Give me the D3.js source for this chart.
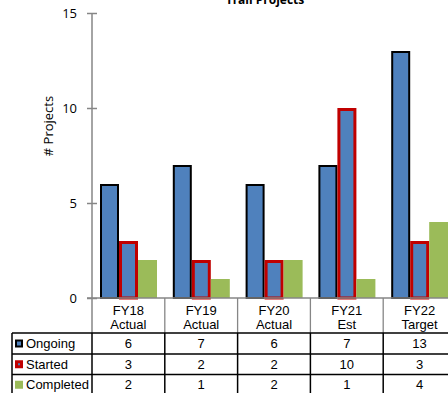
<!DOCTYPE html>
<html><head><meta charset="utf-8">
<script src="https://cdn.jsdelivr.net/npm/d3@7"></script>
<style>body{margin:0;background:#fff}svg{display:block}</style>
</head><body>
<script>
const categories = [["FY18","Actual"],["FY19","Actual"],["FY20","Actual"],["FY21","Est"],["FY22","Target"]];
const seriesNames = ["Ongoing","Started","Completed"];
const ongoing = [6,7,6,7,13];
const started = [3,2,2,10,3];
const completed = [2,1,2,1,4];
const yTicks = [0,5,10,15];

const W=448,H=393;
const svg=d3.select("body").append("svg").attr("width",W).attr("height",H);
const catKeys=categories.map(c=>c.join(" "));
const x=d3.scaleBand().domain(catKeys).range([92,456]).paddingInner(0).paddingOuter(0);
const inner=d3.scaleBand().domain(seriesNames).range([8,65]);
const y=d3.scaleLinear().domain([0,15]).range([298,13]);
const values={Ongoing:ongoing,Started:started,Completed:completed};
const style={
 Ongoing:{fill:"#4F81BD",stroke:"#000",sw:2},
 Started:{fill:"#4F81BD",stroke:"#C00000",sw:3},
 Completed:{fill:"#9BBB59",stroke:"none",sw:0}
};
const chartFont="'Open Sans', Lato, sans-serif";
const tableFont="'Liberation Sans', Arial, sans-serif";

// title
svg.append("text").attr("x",265).attr("y",4).attr("text-anchor","middle")
 .attr("font-family",chartFont).attr("font-weight","bold").attr("font-size",12).text("Trail Projects");

// bars
seriesNames.forEach(s=>{
 const st=style[s];
 svg.append("g").selectAll("rect").data(values[s]).join("rect")
  .attr("x",(d,i)=>x(catKeys[i])+inner(s)+st.sw/2)
  .attr("y",d=>y(d)+st.sw/2)
  .attr("width",inner.bandwidth()-st.sw)
  .attr("height",d=>y(0)-y(d)-st.sw/2)
  .attr("fill",st.fill).attr("stroke",st.stroke).attr("stroke-width",st.sw);
});

// y axis
const yAxis=d3.axisLeft(y).tickValues(yTicks).tickSize(5).tickPadding(10);
const gy=svg.append("g").attr("transform","translate(92,0)").call(yAxis);
gy.select(".domain").remove();
gy.selectAll(".tick line").attr("x2",-5).attr("x1",5).attr("stroke","#868686").attr("stroke-width",1.5);
gy.selectAll(".tick text").attr("font-family",chartFont).attr("font-size",13).attr("fill","#000").attr("x",-15);
svg.append("line").attr("x1",92).attr("x2",92).attr("y1",y(15)).attr("y2",333).attr("stroke","#868686").attr("stroke-width",1.5);
svg.append("line").attr("x1",87).attr("x2",W).attr("y1",298).attr("y2",298).attr("stroke","#868686").attr("stroke-width",1.5);

svg.append("text").attr("transform","translate(53,126) rotate(-90)").attr("text-anchor","middle")
 .attr("font-family",chartFont).attr("font-size",13).text("# Projects");

// header row
const hdr=svg.append("g");
catKeys.forEach((k,i)=>{
 if(i>0) hdr.append("line").attr("x1",x(k)).attr("x2",x(k)).attr("y1",298).attr("y2",333).attr("stroke","#868686").attr("stroke-width",1.3);
 const cx=x(k)+x.bandwidth()/2;
 hdr.append("text").attr("x",cx).attr("y",315).attr("text-anchor","middle").attr("font-family",tableFont).attr("font-size",13).text(categories[i][0]);
 hdr.append("text").attr("x",cx).attr("y",328.5).attr("text-anchor","middle").attr("font-family",tableFont).attr("font-size",13).text(categories[i][1]);
});

// data table
const rowY=[333,354,374.5,395];
const tbl=svg.append("g");
rowY.forEach(ry=>tbl.append("line").attr("x1",12).attr("x2",W).attr("y1",ry).attr("y2",ry).attr("stroke","#000").attr("stroke-width",1.3));
[12,92].concat(catKeys.slice(1).map(k=>x(k))).forEach(vx=>
 tbl.append("line").attr("x1",vx).attr("x2",vx).attr("y1",333).attr("y2",H).attr("stroke","#000").attr("stroke-width",1.5));
seriesNames.forEach((s,r)=>{
 const top=rowY[r], bot=rowY[r+1], mid=(top+bot)/2;
 const st=style[s];
 tbl.append("rect").attr("x",15+st.sw/2).attr("y",mid-4+st.sw/2).attr("width",8-st.sw).attr("height",8-st.sw)
  .attr("fill",st.fill).attr("stroke",st.stroke).attr("stroke-width",st.sw);
 tbl.append("text").attr("x",26).attr("y",mid+4.5).attr("font-family",tableFont).attr("font-size",13).text(s);
 values[s].forEach((v,i)=>{
  tbl.append("text").attr("x",x(catKeys[i])+x.bandwidth()/2).attr("y",mid+4.5).attr("text-anchor","middle")
   .attr("font-family",tableFont).attr("font-size",13).text(v);
 });
});
</script>
</body></html>
